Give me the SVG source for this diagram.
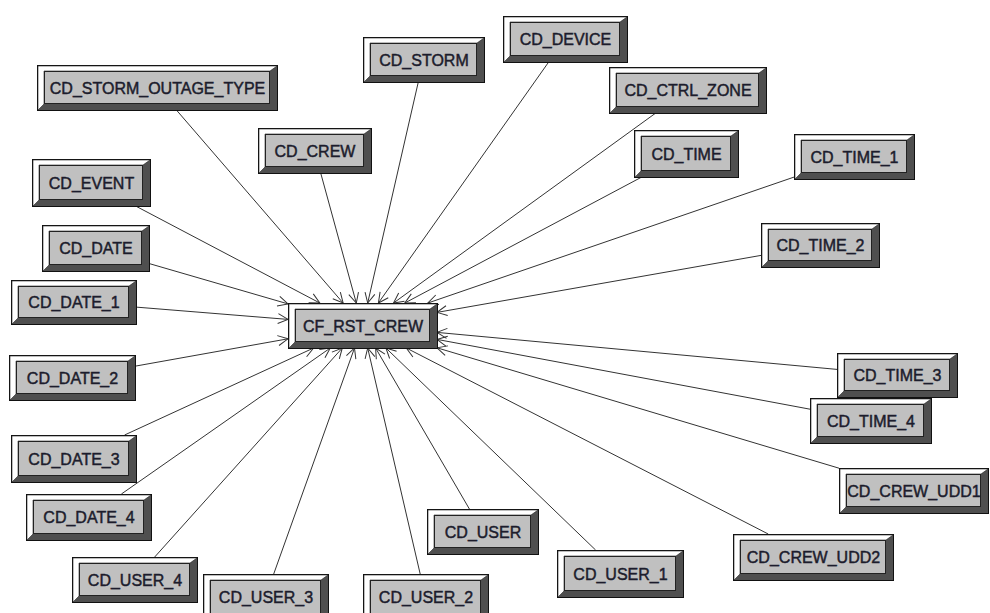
<svg xmlns="http://www.w3.org/2000/svg" width="990" height="613" viewBox="0 0 990 613">
<defs>
<style>
.o{fill:#4f4f4f;stroke:#111;stroke-width:1}
.hl{fill:#fff;stroke:#222;stroke-width:0.6}
.f{fill:#c0c0c0;stroke:#222;stroke-width:1}
.t{font-family:"Liberation Sans",Arial,sans-serif;font-size:16px;fill:#1c1c2c;stroke:#1c1c2c;stroke-width:0.45;text-anchor:middle;dominant-baseline:central}
.c line{stroke:#333;stroke-width:1;fill:none;marker-end:url(#ah)}
</style>
<marker id="ah" markerUnits="userSpaceOnUse" markerWidth="14" markerHeight="14" refX="11" refY="6" orient="auto">
<path d="M1,1 L11,6 L1,11" fill="none" stroke="#333" stroke-width="1"/>
</marker>
</defs>
<rect width="990" height="613" fill="#fff"/>
<g id="connectors" class="c">
<line x1="176.4" y1="110" x2="343.1" y2="303"/>
<line x1="418.3" y1="82" x2="367.7" y2="303"/>
<line x1="548.7" y1="62" x2="378.4" y2="303"/>
<line x1="655.8" y1="113" x2="393.5" y2="303"/>
<line x1="641.8" y1="177" x2="404.8" y2="303"/>
<line x1="794" y1="177.1" x2="427.9" y2="303"/>
<line x1="761" y1="255.4" x2="437" y2="312.4"/>
<line x1="837" y1="369.4" x2="437" y2="332.4"/>
<line x1="810" y1="409.2" x2="437" y2="339.4"/>
<line x1="839" y1="468.2" x2="437" y2="347.8"/>
<line x1="768.2" y1="534" x2="406.3" y2="348"/>
<line x1="595.6" y1="550" x2="385.9" y2="348"/>
<line x1="469.4" y1="509" x2="375.6" y2="348"/>
<line x1="420.2" y1="574" x2="367.7" y2="348"/>
<line x1="273.7" y1="574" x2="354.5" y2="348"/>
<line x1="154.7" y1="557" x2="342.3" y2="348"/>
<line x1="121.4" y1="494" x2="330.3" y2="348"/>
<line x1="124.6" y1="435" x2="313.6" y2="348"/>
<line x1="135" y1="366.2" x2="288" y2="338.8"/>
<line x1="136" y1="307.1" x2="288" y2="319.4"/>
<line x1="149" y1="263.5" x2="288" y2="303.9"/>
<line x1="135.6" y1="206" x2="319.8" y2="303"/>
<line x1="320.7" y1="173" x2="356.3" y2="303"/>
</g>
<g id="cf_rst_crew" transform="translate(288,303)"><rect class="o" x="0.5" y="0.5" width="149" height="45"/><path class="hl" d="M1,1 H149 L142,6 H7 V39 L1,45 Z"/><rect class="f" x="7.5" y="6.5" width="134" height="32"/><text class="t" x="75" y="23">CF_RST_CREW</text></g>
<g id="cd_storm_outage_type" transform="translate(37,65)"><rect class="o" x="0.5" y="0.5" width="240" height="45"/><path class="hl" d="M1,1 H240 L233,6 H7 V39 L1,45 Z"/><rect class="f" x="7.5" y="6.5" width="225" height="32"/><text class="t" x="120.5" y="23">CD_STORM_OUTAGE_TYPE</text></g>
<g id="cd_storm" transform="translate(363,37)"><rect class="o" x="0.5" y="0.5" width="121" height="45"/><path class="hl" d="M1,1 H121 L114,6 H7 V39 L1,45 Z"/><rect class="f" x="7.5" y="6.5" width="106" height="32"/><text class="t" x="61" y="23">CD_STORM</text></g>
<g id="cd_device" transform="translate(503,16)"><rect class="o" x="0.5" y="0.5" width="124" height="46"/><path class="hl" d="M1,1 H124 L117,6 H7 V40 L1,46 Z"/><rect class="f" x="7.5" y="6.5" width="109" height="33"/><text class="t" x="62.5" y="23.5">CD_DEVICE</text></g>
<g id="cd_ctrl_zone" transform="translate(609,67)"><rect class="o" x="0.5" y="0.5" width="157" height="46"/><path class="hl" d="M1,1 H157 L150,6 H7 V40 L1,46 Z"/><rect class="f" x="7.5" y="6.5" width="142" height="33"/><text class="t" x="79" y="23.5">CD_CTRL_ZONE</text></g>
<g id="cd_time" transform="translate(634,130)"><rect class="o" x="0.5" y="0.5" width="104" height="47"/><path class="hl" d="M1,1 H104 L97,6 H7 V41 L1,47 Z"/><rect class="f" x="7.5" y="6.5" width="89" height="34"/><text class="t" x="52.5" y="24">CD_TIME</text></g>
<g id="cd_time_1" transform="translate(794,134)"><rect class="o" x="0.5" y="0.5" width="120" height="45"/><path class="hl" d="M1,1 H120 L113,6 H7 V39 L1,45 Z"/><rect class="f" x="7.5" y="6.5" width="105" height="32"/><text class="t" x="60.5" y="23">CD_TIME_1</text></g>
<g id="cd_time_2" transform="translate(761,223)"><rect class="o" x="0.5" y="0.5" width="118" height="44"/><path class="hl" d="M1,1 H118 L111,6 H7 V38 L1,44 Z"/><rect class="f" x="7.5" y="6.5" width="103" height="31"/><text class="t" x="59.5" y="22.5">CD_TIME_2</text></g>
<g id="cd_time_3" transform="translate(837,353)"><rect class="o" x="0.5" y="0.5" width="120" height="44"/><path class="hl" d="M1,1 H120 L113,6 H7 V38 L1,44 Z"/><rect class="f" x="7.5" y="6.5" width="105" height="31"/><text class="t" x="60.5" y="22.5">CD_TIME_3</text></g>
<g id="cd_time_4" transform="translate(810,398)"><rect class="o" x="0.5" y="0.5" width="121" height="45"/><path class="hl" d="M1,1 H121 L114,6 H7 V39 L1,45 Z"/><rect class="f" x="7.5" y="6.5" width="106" height="32"/><text class="t" x="61" y="23">CD_TIME_4</text></g>
<g id="cd_crew_udd1" transform="translate(839,468)"><rect class="o" x="0.5" y="0.5" width="149" height="45"/><path class="hl" d="M1,1 H149 L142,6 H7 V39 L1,45 Z"/><rect class="f" x="7.5" y="6.5" width="134" height="32"/><text class="t" x="75" y="23">CD_CREW_UDD1</text></g>
<g id="cd_crew_udd2" transform="translate(733,534)"><rect class="o" x="0.5" y="0.5" width="160" height="46"/><path class="hl" d="M1,1 H160 L153,6 H7 V40 L1,46 Z"/><rect class="f" x="7.5" y="6.5" width="145" height="33"/><text class="t" x="80.5" y="23.5">CD_CREW_UDD2</text></g>
<g id="cd_user_1" transform="translate(557,550)"><rect class="o" x="0.5" y="0.5" width="126" height="47"/><path class="hl" d="M1,1 H126 L119,6 H7 V41 L1,47 Z"/><rect class="f" x="7.5" y="6.5" width="111" height="34"/><text class="t" x="63.5" y="24">CD_USER_1</text></g>
<g id="cd_user" transform="translate(427,509)"><rect class="o" x="0.5" y="0.5" width="111" height="45"/><path class="hl" d="M1,1 H111 L104,6 H7 V39 L1,45 Z"/><rect class="f" x="7.5" y="6.5" width="96" height="32"/><text class="t" x="56" y="23">CD_USER</text></g>
<g id="cd_user_2" transform="translate(363,574)"><rect class="o" x="0.5" y="0.5" width="125" height="46"/><path class="hl" d="M1,1 H125 L118,6 H7 V40 L1,46 Z"/><rect class="f" x="7.5" y="6.5" width="110" height="33"/><text class="t" x="63" y="23.5">CD_USER_2</text></g>
<g id="cd_user_3" transform="translate(203,574)"><rect class="o" x="0.5" y="0.5" width="125" height="46"/><path class="hl" d="M1,1 H125 L118,6 H7 V40 L1,46 Z"/><rect class="f" x="7.5" y="6.5" width="110" height="33"/><text class="t" x="63" y="23.5">CD_USER_3</text></g>
<g id="cd_user_4" transform="translate(72,557)"><rect class="o" x="0.5" y="0.5" width="125" height="45"/><path class="hl" d="M1,1 H125 L118,6 H7 V39 L1,45 Z"/><rect class="f" x="7.5" y="6.5" width="110" height="32"/><text class="t" x="63" y="23">CD_USER_4</text></g>
<g id="cd_date_4" transform="translate(26,494)"><rect class="o" x="0.5" y="0.5" width="125" height="46"/><path class="hl" d="M1,1 H125 L118,6 H7 V40 L1,46 Z"/><rect class="f" x="7.5" y="6.5" width="110" height="33"/><text class="t" x="63" y="23.5">CD_DATE_4</text></g>
<g id="cd_date_3" transform="translate(11,435)"><rect class="o" x="0.5" y="0.5" width="125" height="47"/><path class="hl" d="M1,1 H125 L118,6 H7 V41 L1,47 Z"/><rect class="f" x="7.5" y="6.5" width="110" height="34"/><text class="t" x="63" y="24">CD_DATE_3</text></g>
<g id="cd_date_2" transform="translate(9,355)"><rect class="o" x="0.5" y="0.5" width="126" height="45"/><path class="hl" d="M1,1 H126 L119,6 H7 V39 L1,45 Z"/><rect class="f" x="7.5" y="6.5" width="111" height="32"/><text class="t" x="63.5" y="23">CD_DATE_2</text></g>
<g id="cd_date_1" transform="translate(11,280)"><rect class="o" x="0.5" y="0.5" width="125" height="44"/><path class="hl" d="M1,1 H125 L118,6 H7 V38 L1,44 Z"/><rect class="f" x="7.5" y="6.5" width="110" height="31"/><text class="t" x="63" y="22.5">CD_DATE_1</text></g>
<g id="cd_date" transform="translate(42,225)"><rect class="o" x="0.5" y="0.5" width="107" height="46"/><path class="hl" d="M1,1 H107 L100,6 H7 V40 L1,46 Z"/><rect class="f" x="7.5" y="6.5" width="92" height="33"/><text class="t" x="54" y="23.5">CD_DATE</text></g>
<g id="cd_event" transform="translate(32,159)"><rect class="o" x="0.5" y="0.5" width="118" height="47"/><path class="hl" d="M1,1 H118 L111,6 H7 V41 L1,47 Z"/><rect class="f" x="7.5" y="6.5" width="103" height="34"/><text class="t" x="59.5" y="24">CD_EVENT</text></g>
<g id="cd_crew" transform="translate(258,128)"><rect class="o" x="0.5" y="0.5" width="113" height="45"/><path class="hl" d="M1,1 H113 L106,6 H7 V39 L1,45 Z"/><rect class="f" x="7.5" y="6.5" width="98" height="32"/><text class="t" x="57" y="23">CD_CREW</text></g>
</svg>
